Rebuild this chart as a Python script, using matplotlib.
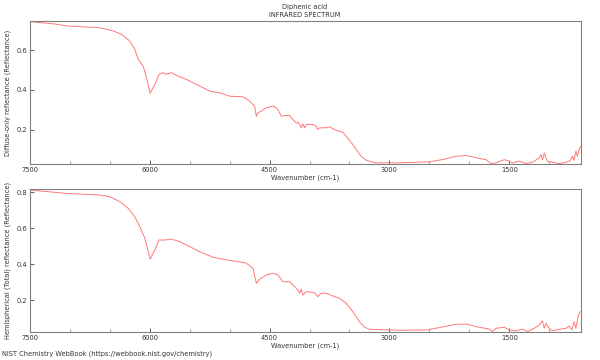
import matplotlib
matplotlib.use('Agg')
import matplotlib.pyplot as plt
from matplotlib.ticker import MultipleLocator
import numpy as np

compound = 'Diphenic acid'
subtitle = 'INFRARED SPECTRUM'
footer = 'NIST Chemistry WebBook (https://webbook.nist.gov/chemistry)'
x_label = 'Wavenumber (cm-1)'
y_label_top = 'Diffuse-only reflectance (Reflectance)'
y_label_bot = 'Hemispherical (Total) reflectance (Reflectance)'

# values
wn_top = [7500, 7375, 7188, 7042, 6875, 6750, 6667, 6583, 6458, 6354, 6250, 6188,
          6146, 6083, 6042, 5996, 5958, 5917, 5884, 5834, 5792, 5729, 5667, 5541,
          5375, 5250, 5125, 5000, 4834, 4750, 4688, 4666, 4646, 4604, 4541, 4459,
          4416, 4375, 4354, 4291, 4250, 4209, 4166, 4146, 4125, 4104, 4084, 4062,
          4041, 3959, 3916, 3896, 3875, 3791, 3750, 3688, 3625, 3584, 3541, 3459,
          3416, 3354, 3291, 3250, 3166, 2875, 2500, 2338, 2166, 2041, 1959, 1875,
          1791, 1729, 1666, 1562, 1500, 1459, 1375, 1291, 1209, 1125, 1104, 1084,
          1062, 1041, 1021, 959, 875, 791, 750, 729, 709, 688, 666, 646, 625, 604]
refl_top = [0.743, 0.738, 0.731, 0.721, 0.718, 0.714, 0.714, 0.708, 0.696, 0.679, 0.645, 0.604,
            0.553, 0.519, 0.461, 0.382, 0.411, 0.444, 0.478, 0.486, 0.478, 0.486, 0.473, 0.452,
            0.419, 0.393, 0.385, 0.368, 0.365, 0.343, 0.318, 0.267, 0.285, 0.293, 0.310, 0.318,
            0.310, 0.285, 0.267, 0.271, 0.271, 0.251, 0.234, 0.237, 0.226, 0.209, 0.229, 0.209,
            0.226, 0.226, 0.217, 0.200, 0.209, 0.209, 0.214, 0.200, 0.192, 0.187, 0.167, 0.125,
            0.100, 0.066, 0.046, 0.041, 0.033, 0.033, 0.038, 0.049, 0.066, 0.070, 0.063, 0.055,
            0.049, 0.029, 0.033, 0.049, 0.041, 0.033, 0.041, 0.029, 0.036, 0.058, 0.075, 0.049,
            0.083, 0.058, 0.041, 0.036, 0.029, 0.036, 0.041, 0.049, 0.066, 0.046, 0.091, 0.066, 0.100, 0.116]

wn_bot = [7500, 7042, 6625, 6500, 6375, 6271, 6188, 6125, 6062, 5996, 5938, 5884,
          5812, 5729, 5625, 5375, 5209, 5041, 4875, 4792, 4708, 4666, 4625, 4541,
          4459, 4396, 4334, 4250, 4188, 4146, 4125, 4104, 4084, 4041, 3938, 3896,
          3854, 3791, 3688, 3625, 3541, 3459, 3375, 3312, 3250, 2875, 2541, 2375,
          2166, 2021, 1916, 1750, 1709, 1666, 1562, 1500, 1416, 1334, 1271, 1188,
          1125, 1084, 1062, 1041, 1000, 959, 854, 791, 750, 716, 688, 666, 634, 612]
refl_bot = [0.813, 0.794, 0.785, 0.776, 0.748, 0.711, 0.664, 0.609, 0.544, 0.428, 0.479, 0.535,
            0.535, 0.540, 0.526, 0.470, 0.439, 0.424, 0.414, 0.406, 0.378, 0.294, 0.317, 0.341,
            0.350, 0.341, 0.303, 0.303, 0.276, 0.257, 0.239, 0.261, 0.229, 0.248, 0.242, 0.220,
            0.239, 0.239, 0.220, 0.211, 0.183, 0.137, 0.081, 0.050, 0.039, 0.033, 0.035, 0.048,
            0.067, 0.067, 0.053, 0.040, 0.026, 0.044, 0.050, 0.035, 0.030, 0.040, 0.026, 0.044,
            0.063, 0.085, 0.044, 0.072, 0.044, 0.030, 0.040, 0.044, 0.057, 0.035, 0.081, 0.044, 0.118, 0.137]

line_col = '#ff7878'
txt_col = '#333333'
fs = 4.8

fig = plt.figure(figsize=(6, 3.6), dpi=100)
ax1 = fig.add_axes([0.05, 0.5444, 0.918, 0.3973])
ax2 = fig.add_axes([0.05, 0.0770, 0.918, 0.3972])

def style(ax, ylim, ylab):
    ax.set_xlim(7500, 604)
    ax.set_ylim(*ylim)
    ax.xaxis.set_major_locator(MultipleLocator(1500))
    ax.xaxis.set_minor_locator(MultipleLocator(500))
    ax.yaxis.set_major_locator(MultipleLocator(0.2))
    ax.tick_params(direction='in', labelsize=fs, labelcolor=txt_col, length=3, width=0.6,
                   color='#444444', pad=2)
    ax.tick_params(which='minor', direction='in', length=2, width=0.5, color='#777777')
    for s in ax.spines.values():
        s.set_color('#808080')
        s.set_linewidth(0.8)
    ax.set_xlabel(x_label, fontsize=fs, labelpad=1, color=txt_col)
    ax.set_ylabel(ylab, fontsize=fs, labelpad=4, color=txt_col)

ax1.plot(wn_top, refl_top, color=line_col, lw=0.7)
ax2.plot(wn_bot, refl_bot, color=line_col, lw=0.7)
style(ax1, (0.027, 0.746), y_label_top)
style(ax2, (0.022, 0.817), y_label_bot)

fig.text(0.508, 0.980, compound, ha='center', va='center', fontsize=fs, color=txt_col)
fig.text(0.508, 0.958, subtitle, ha='center', va='center', fontsize=fs, color=txt_col)
fig.text(0.003, 0.016, footer, ha='left', va='center', fontsize=fs, color=txt_col)

fig.savefig('out.png', dpi=100)
